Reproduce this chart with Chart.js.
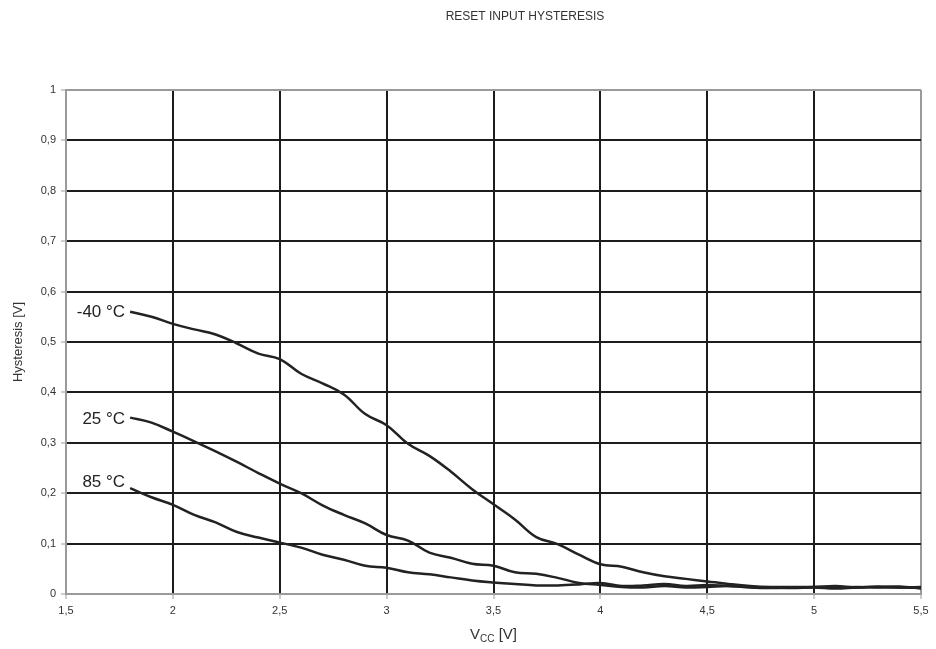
<!DOCTYPE html>
<html>
<head>
<meta charset="utf-8">
<script src="https://cdn.jsdelivr.net/npm/chart.js@4/dist/chart.umd.min.js"></script>
<style>
  html, body { margin: 0; padding: 0; background: #fff; }
  #wrap { width: 936px; height: 649px; }
</style>
</head>
<body>
<div id="wrap"><canvas id="myChart" width="936" height="649"></canvas></div>
<script>
"use strict";

const chartTitle = "RESET INPUT HYSTERESIS";
const yTitle = "Hysteresis [V]";

const vcc = [1.8, 1.9, 2.0, 2.1, 2.2, 2.3, 2.4, 2.5, 2.6, 2.7, 2.8, 2.9, 3.0, 3.1, 3.2, 3.3, 3.4, 3.5, 3.6,
  3.7, 3.8, 3.9, 4.0, 4.1, 4.2, 4.3, 4.4, 4.5, 4.6, 4.7, 4.8, 4.9, 5.0, 5.1, 5.2, 5.3, 5.4, 5.5];

const seriesNames = ["-40 °C", "25 °C", "85 °C"];

const hystMinus40 = [0.56, 0.55, 0.536, 0.525, 0.515, 0.497, 0.477, 0.466, 0.437, 0.418, 0.396, 0.357, 0.335,
  0.298, 0.274, 0.243, 0.208, 0.178, 0.148, 0.113, 0.099, 0.078, 0.059, 0.054, 0.043, 0.035, 0.03, 0.025,
  0.02, 0.016, 0.014, 0.014, 0.014, 0.013, 0.014, 0.013, 0.013, 0.012];

const hyst25 = [0.35, 0.34, 0.322, 0.303, 0.283, 0.262, 0.24, 0.219, 0.2, 0.176, 0.157, 0.14, 0.117,
  0.106, 0.082, 0.072, 0.06, 0.056, 0.043, 0.04, 0.032, 0.022, 0.018, 0.014, 0.013, 0.016, 0.013, 0.014,
  0.016, 0.013, 0.012, 0.013, 0.014, 0.016, 0.013, 0.015, 0.013, 0.014];

const hyst85 = [0.21, 0.192, 0.177, 0.157, 0.142, 0.123, 0.112, 0.102, 0.092, 0.078, 0.068, 0.056, 0.052,
  0.043, 0.039, 0.033, 0.027, 0.023, 0.02, 0.017, 0.017, 0.019, 0.022, 0.016, 0.017, 0.02, 0.016, 0.018,
  0.016, 0.014, 0.013, 0.012, 0.013, 0.011, 0.013, 0.014, 0.015, 0.011];

const xMin = 1.5, xMax = 5.5, xStep = 0.5;
const yMin = 0, yMax = 1, yStep = 0.1;

const lineColor = "#222";
const gridColor = "#1c1c1c";
const axisColor = "#9a9a9a";
const textColor = "#333";
const fontFamily = "'Liberation Sans', Arial, sans-serif";

// vertical nudge of each curve label (the 85 one sits a bit above its line)
const labelNudge = [1, 2, -6];

function toPoints(values) {
  return vcc.map((v, i) => ({ x: v, y: values[i] }));
}

function commaLabel(value) {
  return String(Math.round(value * 10) / 10).replace(".", ",");
}

const allSeries = [hystMinus40, hyst25, hyst85];

const data = {
  datasets: allSeries.map((values, i) => ({
    label: seriesNames[i],
    data: toPoints(values),
    borderColor: lineColor,
    borderWidth: 2.5,
    pointRadius: 0,
    tension: 0.4,
    fill: false,
  })),
};

// text that chart.js doesn't place the way the original does
const textPlugin = {
  id: "textPlugin",
  afterDraw(chart) {
    const ctx = chart.ctx;
    const area = chart.chartArea;
    ctx.save();
    ctx.fillStyle = textColor;

    // title
    ctx.font = "12px " + fontFamily;
    ctx.textAlign = "center";
    ctx.textBaseline = "middle";
    ctx.fillText(chartTitle, 525, 17);

    // series labels at the start of each curve
    ctx.font = "17px " + fontFamily;
    ctx.fillStyle = lineColor;
    ctx.textAlign = "right";
    chart.data.datasets.forEach((ds, i) => {
      const pt = chart.getDatasetMeta(i).data[0];
      ctx.fillText(ds.label, pt.x - 5, pt.y + labelNudge[i]);
    });

    // x axis title with subscript
    ctx.fillStyle = textColor;
    ctx.textAlign = "left";
    ctx.textBaseline = "alphabetic";
    const cx = (area.left + area.right) / 2;
    const big = "15px " + fontFamily;
    const small = "10px " + fontFamily;
    ctx.font = big;
    const wV = ctx.measureText("V").width;
    const wRest = ctx.measureText(" [V]").width;
    ctx.font = small;
    const wCC = ctx.measureText("CC").width;
    let x = cx - (wV + wCC + wRest) / 2;
    const base = 639;
    ctx.font = big;
    ctx.fillText("V", x, base);
    x += wV;
    ctx.font = small;
    ctx.fillText("CC", x, base + 3);
    x += wCC;
    ctx.font = big;
    ctx.fillText(" [V]", x, base);
    ctx.restore();
  },
};

const config = {
  type: "line",
  data: data,
  plugins: [textPlugin],
  options: {
    responsive: false,
    animation: false,
    layout: { padding: { top: 90, right: 15, left: 0, bottom: 0 } },
    plugins: {
      legend: { display: false },
      title: { display: false },
      tooltip: { enabled: false },
    },
    scales: {
      x: {
        type: "linear",
        min: xMin,
        max: xMax,
        ticks: {
          stepSize: xStep,
          color: textColor,
          font: { size: 11, family: fontFamily },
          padding: 5,
          maxRotation: 0,
          callback: (v) => commaLabel(v),
        },
        grid: {
          color: (c) => (c.tick && (c.tick.value === xMin || c.tick.value === xMax) ? axisColor : gridColor),
          lineWidth: 2,
          tickColor: axisColor,
          tickWidth: 1,
          tickLength: 5,
        },
        border: { color: axisColor, width: 2 },
        afterFit: (scale) => { scale.height = 55; },
      },
      y: {
        type: "linear",
        min: yMin,
        max: yMax,
        ticks: {
          stepSize: yStep,
          color: textColor,
          font: { size: 11, family: fontFamily },
          padding: 5,
          callback: (v) => commaLabel(v),
        },
        grid: {
          color: (c) => (c.tick && (c.tick.value === yMin || c.tick.value === yMax) ? axisColor : gridColor),
          lineWidth: 2,
          tickColor: axisColor,
          tickWidth: 1,
          tickLength: 5,
        },
        border: { color: axisColor, width: 2 },
        title: {
          display: true,
          text: yTitle,
          color: textColor,
          font: { size: 13, family: fontFamily },
          padding: { top: 11, bottom: 0 },
        },
        afterFit: (scale) => { scale.width = 66; },
      },
    },
  },
};

const canvasChart = document.getElementById("myChart");
new Chart(canvasChart, config);
</script>
</body>
</html>
